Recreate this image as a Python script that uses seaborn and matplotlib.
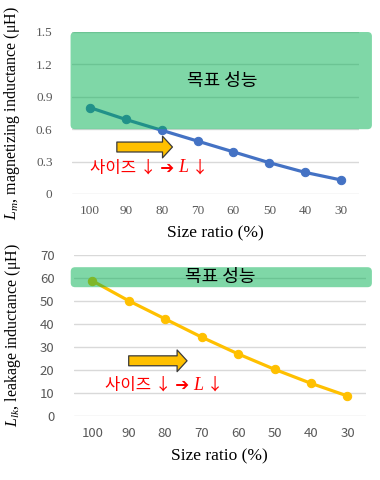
import matplotlib
matplotlib.use("Agg")
import matplotlib.pyplot as plt
import seaborn as sns
import pandas as pd
from matplotlib.patches import FancyBboxPatch, FancyArrowPatch

# ---------------- data ----------------
size_ratio = ["100", "90", "80", "70", "60", "50", "40", "30"]
lm_values = [0.80, 0.69, 0.59, 0.49, 0.39, 0.29, 0.20, 0.13]
llk_values = [58.8, 50.1, 42.2, 34.3, 27.0, 20.3, 14.2, 8.7]
lm_ticks = [0, 0.3, 0.6, 0.9, 1.2, 1.5]
llk_ticks = [0, 10, 20, 30, 40, 50, 60, 70]
lm_target = (0.6, 1.5)
llk_target = (56.0, 64.7)
target_text = "목표 성능"
trend_text = "사이즈 ↓ ➔ "

sns.set_theme(style="white")
plt.rcParams["mathtext.fontset"] = "custom"
plt.rcParams["mathtext.rm"] = "Liberation Serif"
plt.rcParams["mathtext.it"] = "Liberation Serif:italic"
plt.rcParams["font.family"] = ["Noto Sans CJK KR", "DejaVu Sans"]

W, H = 380, 480
fig = plt.figure(figsize=(W / 100, H / 100), dpi=100)

GRID = "#D9D9D9"
TICK = "#595959"
KFONT = ["Noto Sans CJK KR", "DejaVu Sans"]


def px_axes(l, r, t, b):
    return fig.add_axes([l / W, 1 - b / H, (r - l) / W, (b - t) / H])


def panel(ax, values, color, ticks, target, xbox, tick_family, ylabel,
          target_y, arrow_y, arrow_x, text_xy, ylab_x):
    df = pd.DataFrame({"ratio": size_ratio, "val": values})
    sns.lineplot(data=df, x="ratio", y="val", sort=False, ax=ax, color=color,
                 linewidth=2.3, marker="o", markersize=6,
                 markeredgecolor=color, markerfacecolor=color, zorder=3)
    ax.set_xlim(-0.5, 7.5)
    ax.set_ylim(ticks[0], ticks[-1])
    ax.set_yticks(ticks)
    ax.set_yticklabels([("%g" % t) for t in ticks])
    for s in ax.spines.values():
        s.set_visible(False)
    ax.grid(axis="y", color=GRID, linewidth=1.0)
    ax.grid(axis="x", visible=False)
    ax.set_axisbelow(True)
    ax.tick_params(axis="both", length=0, colors=TICK, labelsize=9.5)
    ax.tick_params(axis="x", pad=8)
    ax.tick_params(axis="y", pad=14)
    for lab in ax.get_xticklabels() + ax.get_yticklabels():
        lab.set_family(tick_family)
    ax.set_xlabel("Size ratio (%)", family="Liberation Serif", fontsize=12.5,
                  color="black", labelpad=6)
    ax.set_ylabel(ylabel, family="Liberation Serif", fontsize=11.5, color="black")
    ax.yaxis.set_label_coords(ylab_x, 0.5)

    # target box (semi-transparent green, on top of the line)
    bbox = ax.get_window_extent()
    xr = bbox.width / 8.0
    yr = bbox.height / (ticks[-1] - ticks[0])
    rect = FancyBboxPatch((xbox[0], target[0]), xbox[1] - xbox[0],
                          target[1] - target[0],
                          boxstyle="round,pad=0,rounding_size=0.12",
                          mutation_aspect=xr / yr,
                          facecolor="#00B050", alpha=0.5, edgecolor="none",
                          clip_on=False, zorder=5)
    ax.add_patch(rect)
    ax.text(target_y[0], target_y[1], target_text, family=KFONT, fontsize=13,
            color="black", ha="center", va="center", zorder=6)

    # yellow block arrow
    arr = FancyArrowPatch((arrow_x[0], arrow_y), (arrow_x[1], arrow_y),
                          arrowstyle="simple,head_length=0.55,head_width=1.2,tail_width=0.55",
                          mutation_scale=13, shrinkA=0, shrinkB=0,
                          facecolor="#FFC000", edgecolor="#3A3A3A",
                          linewidth=0.9, zorder=4)
    ax.add_patch(arr)

    # red text
    t1 = ax.text(text_xy[0], text_xy[1], trend_text, family=KFONT,
                 fontsize=12, color="#FF0000", ha="left", va="baseline", zorder=6)
    t2 = ax.annotate("L", xy=(1, 0), xycoords=t1, family="Liberation Serif",
                     style="italic", fontsize=13, color="#FF0000",
                     ha="left", va="bottom", zorder=6)
    ax.annotate(" ↓", xy=(1, 0), xycoords=t2, family=KFONT,
                fontsize=12, color="#FF0000", ha="left", va="bottom", zorder=6)


ax1 = px_axes(72, 359, 32, 194)
panel(ax1, lm_values, "#4472C4", lm_ticks, lm_target, (-0.54, 7.86),
      "Liberation Serif",
      r"$L_m$, magnetizing inductance (μH)",
      target_y=(3.68, 1.05), arrow_y=0.435, arrow_x=(0.75, 2.3),
      text_xy=(0.0, 0.20), ylab_x=-0.175)

ax2 = px_axes(74, 365.7, 255, 416)
panel(ax2, llk_values, "#FFC000", llk_ticks, llk_target, (-0.59, 7.67),
      KFONT,
      r"$L_{lk}$, leakage inductance (μH)",
      target_y=(3.5, 60.3), arrow_y=24.0, arrow_x=(1.0, 2.6),
      text_xy=(0.35, 11.5), ylab_x=-0.175)

fig.savefig("out.png", dpi=100)
